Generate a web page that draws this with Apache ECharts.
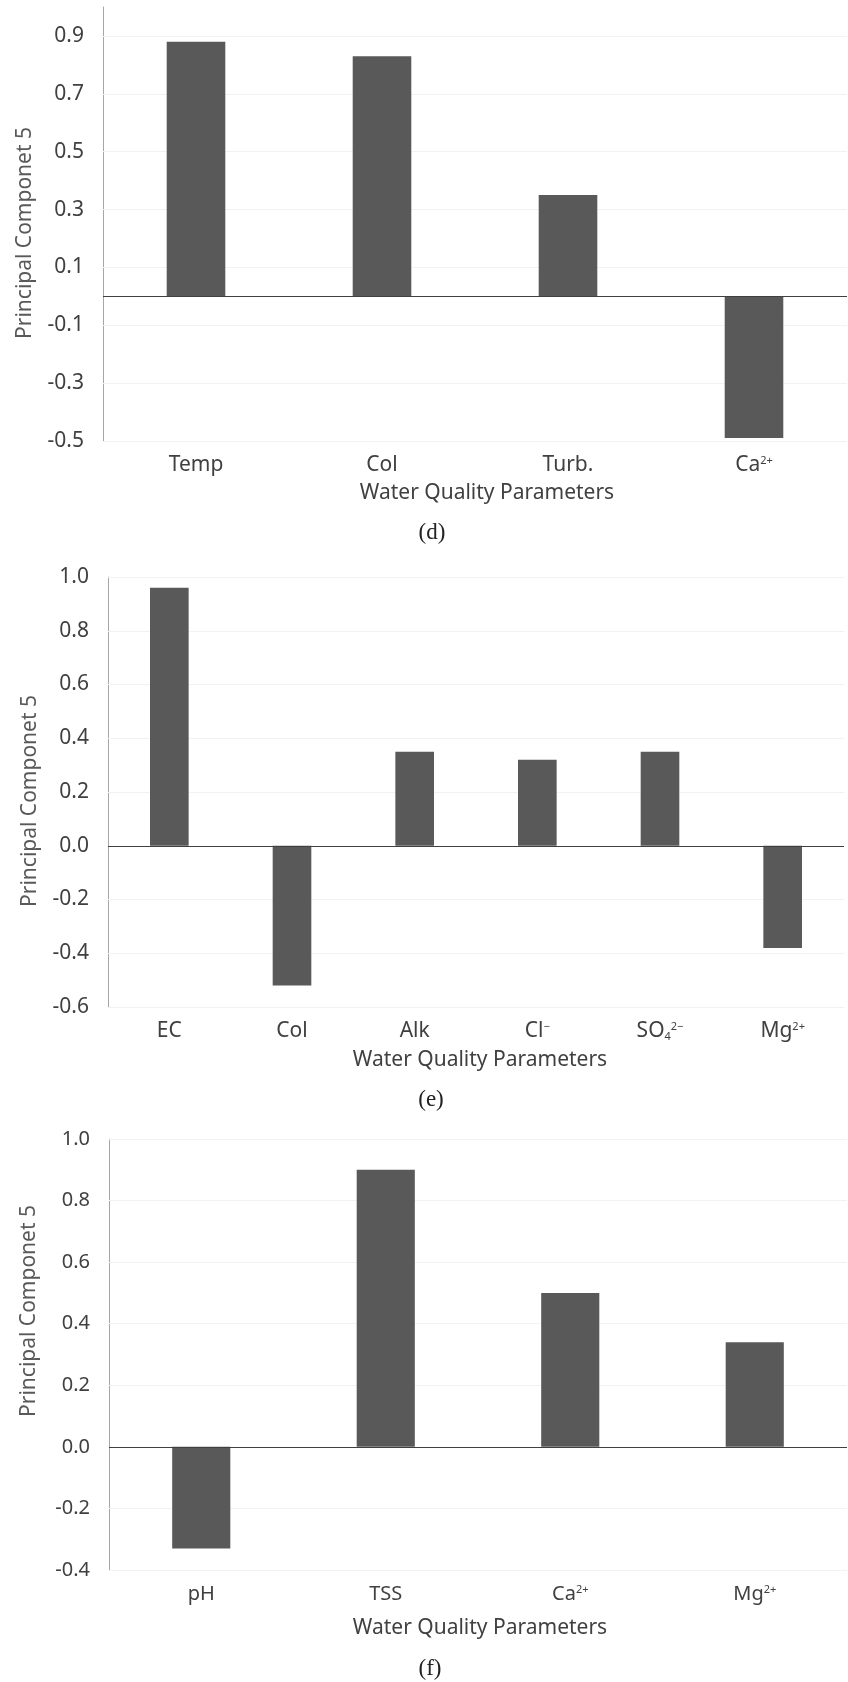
<!DOCTYPE html>
<html>
<head>
<meta charset="utf-8">
<title>Principal Component 5 loadings</title>
<script src="https://cdn.jsdelivr.net/npm/echarts@6/dist/echarts.min.js"></script>
<style>
  html, body { margin: 0; padding: 0; background: #ffffff; }
  #chart { width: 848px; height: 1682px; }
</style>
</head>
<body>
<div id="chart"></div>
<script>
// Panel (d)
const categoriesD = ['Temp', 'Col', 'Turb.', 'Ca{sup|2+}'];
const valuesD = [0.88, 0.83, 0.35, -0.49];
const ticksD = [-0.5, -0.3, -0.1, 0.1, 0.3, 0.5, 0.7, 0.9];

// Panel (e)
const categoriesE = ['EC', 'Col', 'Alk', 'Cl{sup|−}', 'SO{sub|4}{sup|2−}', 'Mg{sup|2+}'];
const valuesE = [0.96, -0.52, 0.35, 0.32, 0.35, -0.38];
const ticksE = [-0.6, -0.4, -0.2, 0.0, 0.2, 0.4, 0.6, 0.8, 1.0];

// Panel (f)
const categoriesF = ['pH', 'TSS', 'Ca{sup|2+}', 'Mg{sup|2+}'];
const valuesF = [-0.33, 0.90, 0.50, 0.34];
const ticksF = [-0.4, -0.2, 0.0, 0.2, 0.4, 0.6, 0.8, 1.0];

const yTitle = 'Principal Componet 5';
const xTitle = 'Water Quality Parameters';
const captions = ['(d)', '(e)', '(f)'];

const SANS = '"Noto Sans", "DejaVu Sans", sans-serif';
const SERIF = '"Liberation Serif", "DejaVu Serif", serif';
const BAR = '#595959';
const LABEL = '#404040';

const panels = [
  { cats: categoriesD, vals: valuesD, ticks: ticksD, min: -0.5, max: 1.0,
    grid: { left: 103, top: 7, width: 744, height: 434 }, fs: 21,
    yTitlePos: [25, 233], xTitlePos: [487, 493], capPos: [432, 533] },
  { cats: categoriesE, vals: valuesE, ticks: ticksE, min: -0.6, max: 1.0,
    grid: { left: 108, top: 577, width: 736, height: 430 }, fs: 21,
    yTitlePos: [30, 801], xTitlePos: [480, 1060], capPos: [431, 1100] },
  { cats: categoriesF, vals: valuesF, ticks: ticksF, min: -0.4, max: 1.0,
    grid: { left: 109, top: 1139, width: 738, height: 431 }, fs: 20,
    yTitlePos: [29, 1311], xTitlePos: [480, 1628], capPos: [430, 1669] }
];

const richScripts = {
  sup: { fontSize: 11, fontFamily: SANS, color: LABEL, verticalAlign: 'top' },
  sub: { fontSize: 11, fontFamily: SANS, color: LABEL, verticalAlign: 'bottom' }
};

const noMarkerLine = { silent: true, symbol: ['none', 'none'], label: { show: false } };

// faint horizontal guides at each labelled tick, kept behind the bars
const gridSeries = panels.map((p, i) => ({
  type: 'line',
  xAxisIndex: i,
  yAxisIndex: i,
  data: [],
  z: 1,
  markLine: Object.assign({}, noMarkerLine, {
    z: 1,
    data: p.ticks.filter(t => t !== 0).map(t => ({
      yAxis: t, lineStyle: { color: '#f2f2f2', width: 1, type: 'solid' }
    }))
  })
}));

const barSeries = panels.map((p, i) => ({
  type: 'bar',
  xAxisIndex: i,
  yAxisIndex: i,
  data: p.vals,
  barWidth: '31.5%',
  z: 3,
  itemStyle: { color: BAR },
  markLine: Object.assign({}, noMarkerLine, {
    z: 5,
    data: [{ yAxis: 0, lineStyle: { color: '#404040', width: 1, type: 'solid' } }]
  })
}));

const option = {
  backgroundColor: '#ffffff',
  animation: false,
  grid: panels.map(p => Object.assign({ containLabel: false }, p.grid)),
  xAxis: panels.map((p, i) => ({
    type: 'category',
    gridIndex: i,
    data: p.cats,
    axisLine: { show: false, onZero: false },
    axisTick: { show: false },
    splitLine: { show: false },
    axisLabel: {
      margin: 14,
      interval: 0,
      fontSize: p.fs,
      fontFamily: SANS,
      color: LABEL,
      rich: richScripts
    }
  })),
  yAxis: panels.map((p, i) => ({
    type: 'value',
    gridIndex: i,
    min: p.min,
    max: p.max,
    axisLine: { show: true, lineStyle: { color: '#a6a6a6', width: 1 } },
    axisTick: { show: false },
    splitLine: { show: false },
    axisLabel: {
      customValues: p.ticks,
      margin: 19,
      fontSize: p.fs,
      fontFamily: SANS,
      color: LABEL,
      formatter: v => v.toFixed(1)
    }
  })),
  series: gridSeries.concat(barSeries),
  graphic: panels.flatMap((p, i) => [
    {
      type: 'text',
      x: p.yTitlePos[0], y: p.yTitlePos[1],
      rotation: Math.PI / 2,
      style: {
        text: yTitle, font: '21px ' + SANS, fill: '#595959',
        align: 'center', verticalAlign: 'middle',
        textAlign: 'center', textVerticalAlign: 'middle'
      }
    },
    {
      type: 'text',
      x: p.xTitlePos[0], y: p.xTitlePos[1],
      style: {
        text: xTitle, font: '21px ' + SANS, fill: LABEL,
        align: 'center', verticalAlign: 'middle',
        textAlign: 'center', textVerticalAlign: 'middle'
      }
    },
    {
      type: 'text',
      x: p.capPos[0], y: p.capPos[1],
      style: {
        text: captions[i], font: '23px ' + SERIF, fill: '#222222',
        align: 'center', verticalAlign: 'middle',
        textAlign: 'center', textVerticalAlign: 'middle'
      }
    }
  ])
};

const chart = echarts.init(document.getElementById('chart'), null, { renderer: 'canvas' });
chart.setOption(option);
</script>
</body>
</html>
